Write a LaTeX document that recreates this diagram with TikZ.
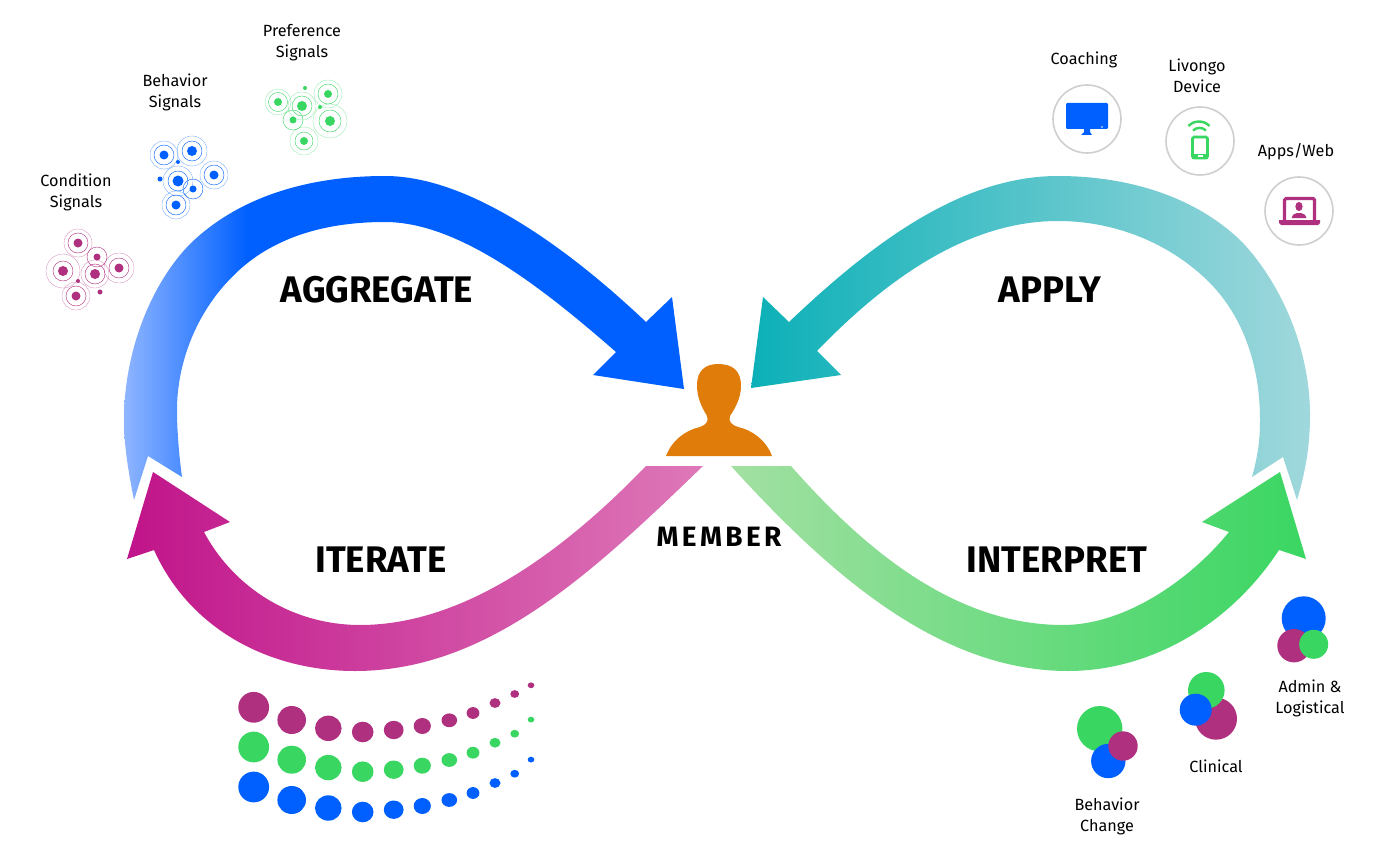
\documentclass[tikz,border=0pt]{standalone}
\usepackage{fontspec}
\setmainfont{Fira Sans}
\newfontfamily\headfont[FakeStretch=0.99]{Fira Sans}
\newfontfamily\memberfont[LetterSpace=12]{Fira Sans}
\definecolor{bl}{HTML}{0060FF}
\definecolor{blL}{HTML}{8FB5FF}
\definecolor{gr}{HTML}{3AD662}
\definecolor{grL}{HTML}{A2E0A2}
\definecolor{mg}{HTML}{B03080}
\definecolor{pk}{HTML}{C0148A}
\definecolor{pkL}{HTML}{DE78B8}
\definecolor{tl}{HTML}{0CB0B8}
\definecolor{tlL}{HTML}{A0D8DC}
\definecolor{og}{HTML}{E07C0A}
\definecolor{ringgray}{HTML}{CFCFCF}
\pgfdeclarehorizontalshading{blueS}{100bp}{color(0bp)=(blL);color(25bp)=(blL);color(36bp)=(bl);color(100bp)=(bl)}
\pgfdeclarehorizontalshading{tealS}{100bp}{color(0bp)=(tl);color(25bp)=(tl);color(75bp)=(tlL);color(100bp)=(tlL)}
\pgfdeclarehorizontalshading{pinkS}{100bp}{color(0bp)=(pk);color(25bp)=(pk);color(75bp)=(pkL);color(100bp)=(pkL)}
\pgfdeclarehorizontalshading{greenS}{100bp}{color(0bp)=(grL);color(25bp)=(grL);color(75bp)=(gr);color(100bp)=(gr)}
\tikzset{
  label/.style={font=\fontsize{16.2}{21}\selectfont,align=center,text=black,inner sep=0pt},
  head/.style={font=\headfont\bfseries\fontsize{37}{40}\selectfont,text=black,inner sep=0pt},
  iconring/.style={draw=ringgray,line width=1.6pt,fill=white},
}
\newcommand{\sigb}[6]{%
  \fill[#6] (#1,#2) circle (#3);
  \draw[#6,line width=.45pt] (#1,#2) circle (#4);
  \draw[#6,line width=.3pt,opacity=.6] (#1,#2) circle (#5);
}
\begin{document}
\begin{tikzpicture}[x=1pt,y=-1pt]
\useasboundingbox (0,0) rectangle (1384,856);
% arrows
\shade[shading=blueS] (134,500) .. controls (128,470) and (124,445) .. (124,420)
  .. controls (124,350) and (152,282) .. (191,243)
  .. controls (240,196) and (310,176) .. (385,176)
  .. controls (470,176) and (570,250) .. (646,322)
  -- (672,297) -- (684,389) -- (593,375) -- (616,352)
  .. controls (545,290) and (460,222) .. (385,222)
  .. controls (320,222) and (268,240) .. (232,277)
  .. controls (197,312) and (177,362) .. (177,410)
  .. controls (177,430) and (179,455) .. (182,477)
  -- (148,456) -- cycle;
\shade[shading=tealS] (1297,500) .. controls (1306,470) and (1310,445) .. (1310,415)
  .. controls (1310,350) and (1282,285) .. (1243,243)
  .. controls (1195,195) and (1125,176) .. (1058,176)
  .. controls (960,176) and (870,245) .. (789,322)
  -- (763,297) -- (751,388) -- (841,375) -- (817,351)
  .. controls (895,270) and (975,221) .. (1058,221)
  .. controls (1115,221) and (1170,243) .. (1210,283)
  .. controls (1243,317) and (1260,365) .. (1260,420)
  .. controls (1260,440) and (1258,455) .. (1252,477)
  -- (1283,457) -- cycle;
\shade[shading=pinkS] (127,559) -- (153,472) -- (230,522) -- (204,532)
  .. controls (235,590) and (295,625) .. (360,625)
  .. controls (465,625) and (565,550) .. (646,466)
  -- (703,466)
  .. controls (595,570) and (490,671) .. (355,671)
  .. controls (270,671) and (190,630) .. (154,550) -- cycle;
\shade[shading=greenS] (1306,559) -- (1280,472) -- (1202,522) -- (1229,532)
  .. controls (1190,580) and (1125,625) .. (1063,625)
  .. controls (955,625) and (865,550) .. (791,466)
  -- (731,466)
  .. controls (830,575) and (940,671) .. (1068,671)
  .. controls (1150,671) and (1230,625) .. (1279,550) -- cycle;
% person
\fill[og] (666,456) .. controls (672,440) and (686,430) .. (700,427)
  .. controls (706,425) and (709,421) .. (707,416)
  .. controls (701,406) and (697,397) .. (697,385)
  .. controls (697,371) and (705,364) .. (718,364)
  .. controls (733,364) and (741,371) .. (741,386)
  .. controls (741,397) and (736,407) .. (730,416)
  .. controls (728,422) and (732,425) .. (738,427)
  .. controls (752,430) and (766,440) .. (772,456) -- cycle;
% headings
\node[head] (aggregate) at (377,290) {AGGREGATE};
\node[head] (apply) at (1050,290) {APPLY};
\node[head] (iterate) at (381,560) {ITERATE};
\node[head] (interpret) at (1057,560) {INTERPRET};
\node[inner sep=0pt,font=\memberfont\bfseries\fontsize{28}{30}\selectfont] (member) at (719,537) {MEMBER};
% labels
\node[label] (lpref) at (302,43) {Preference\\Signals};
\node[label] (lbeh) at (175,92) {Behavior\\Signals};
\node[label] (lcond) at (76,192) {Condition\\Signals};
\node[label] (lcoach) at (1084,60) {Coaching};
\node[label] (lliv) at (1197,75.5) {Livongo\\Device};
\node[label] (lapps) at (1296,152) {Apps/Web};
\node[label] (ladmin) at (1310,698) {Admin \&\\Logistical};
\node[label] (lclin) at (1216,766) {Clinical};
\node[label] (lbc) at (1107,816) {Behavior\\Change};
% green signals
\sigb{278}{102}{4}{9.5}{13}{gr}
\sigb{302}{106}{5}{10}{14}{gr}
\sigb{328}{94}{4}{10}{14}{gr}
\sigb{330}{121}{5}{11}{17}{gr}
\sigb{304}{141}{4}{9}{14}{gr}
\draw[gr,line width=.4pt] (293,120) circle (10);
\fill[gr] (293,120) circle (3.5) (305,88) circle (2) (320,107) circle (2);
% blue signals
\sigb{164}{155}{4.5}{10}{14}{bl}
\sigb{192}{151}{5}{10}{15}{bl}
\sigb{214}{175}{4.5}{10}{14}{bl}
\sigb{178}{181}{5.5}{10}{15}{bl}
\sigb{176}{205}{4.5}{10}{14}{bl}
\draw[bl,line width=.4pt] (193,189) circle (10);
\fill[bl] (193,189) circle (3.5) (178,162) circle (2) (160,179) circle (2.5);
% magenta signals
\sigb{78}{243}{4.5}{10}{14}{mg}
\sigb{119}{268}{4.5}{10}{15}{mg}
\sigb{63}{271}{5}{10}{17}{mg}
\sigb{95}{274}{5}{10}{14}{mg}
\sigb{76}{296}{4.5}{10}{14}{mg}
\draw[mg,line width=.4pt] (97,257) circle (10);
\fill[mg] (97,257) circle (3.5) (78,281) circle (2) (100,292) circle (2.5);
% icons
\node[iconring,circle,minimum size=68pt,inner sep=0pt] (coach) at (1087,119) {};
\node[iconring,circle,minimum size=68pt,inner sep=0pt] (device) at (1200,141) {};
\node[iconring,circle,minimum size=68pt,inner sep=0pt] (apps) at (1299,211) {};
% monitor
\fill[bl,rounded corners=1.2pt] (1066,103) rectangle (1108,129);
\fill[bl] (1084,129) -- (1090,129) -- (1090,132) -- (1092,135) -- (1081,135) -- (1084,132) -- cycle;
\fill[white] (1102,127) circle (0.9);
% phone
\draw[gr,line width=2.6pt,rounded corners=1.5pt] (1192.5,137) rectangle (1207.5,158);
\fill[gr] (1192,154) rectangle (1208,159);
\fill[white] (1197.5,155.5) rectangle (1202.5,157);
\draw[gr,line width=2.4pt] (1188.5,126) .. controls (1194,120) and (1204,120) .. (1209.5,126);
\draw[gr,line width=2.4pt] (1193,130.5) .. controls (1197,127) and (1202,127) .. (1206,130.5);
% laptop
\draw[mg,line width=3.2pt,rounded corners=1.5pt] (1284.5,221) -- (1284.5,198.5) -- (1314.5,198.5) -- (1314.5,221);
\fill[mg] (1279,220) -- (1320,220) -- (1320,223) -- (1318,225) -- (1281,225) -- (1279,223) -- cycle;
\fill[mg] (1299,206.5) ellipse (3.6 and 4.6);
\fill[mg] (1291.5,218) .. controls (1291.5,215) and (1294,214) .. (1297,213) -- (1301,213) .. controls (1304,214) and (1306.5,215) .. (1306.5,218) -- cycle;
% dots
\foreach \x/\y/\rx/\ry/\d/\e in {253.7/707.3/15.4/15.4/39.7/79.7,291.7/720/14.3/14/39.7/80,328.3/728.3/13.3/12.7/39.3/79.7,362.7/732/10.8/10.3/39.7/80,393.7/730/9.9/9.2/39.7/79.7,422.3/726/8.6/8/39.7/80,449.3/720.3/7.8/6.9/39.7/79.7,473/713/6.4/5.9/39.7/80,495/703/5.5/4.9/39.7/80,514.7/694/4.4/3.9/39.7/79.7,531/685.3/3.3/2.9/34.3/74.3}{
  \fill[mg] (\x,\y) ellipse (\rx pt and \ry pt);
  \fill[gr] (\x,\y+\d) ellipse (\rx pt and \ry pt);
  \fill[bl] (\x,\y+\e) ellipse (\rx pt and \ry pt);
}
% venns
\fill[bl] (1303.7,618.3) circle (22);
\fill[mg] (1294,645.7) circle (16.7);
\fill[gr] (1313.7,644.3) circle (14.5);
\fill[mg] (1216,718.7) circle (21);
\fill[gr] (1206.3,690.3) circle (18.3);
\fill[bl] (1195.7,709.7) circle (16);
\fill[gr] (1099.7,728.7) circle (22.7);
\fill[bl] (1108.3,761) circle (17.2);
\fill[mg] (1123,746) circle (14.7);
\end{tikzpicture}
\end{document}
